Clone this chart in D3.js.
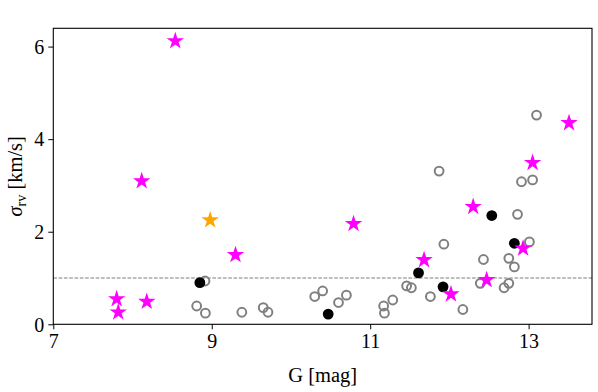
<!DOCTYPE html>
<html><head><meta charset="utf-8">
<script src="https://cdn.jsdelivr.net/npm/d3@7"></script>
<style>body{margin:0;background:#fff}svg{display:block}text{font-family:"Liberation Serif","Times New Roman",serif;fill:#000}</style>
</head><body><svg id="c" width="598" height="392"></svg>
<script>
// Gray open circles
const grayG = [8.915,8.81,8.92,9.38,9.65,9.71,10.30,10.40,10.60,10.70,11.17,11.18,11.285,11.46,11.52,11.76,11.93,12.17,12.39,12.43,12.69,12.75,12.75,12.82,12.86,13.01,11.87,12.91,13.05,13.10];
const grayS = [0.935,0.395,0.24,0.26,0.36,0.26,0.60,0.72,0.47,0.63,0.395,0.24,0.525,0.83,0.79,0.60,1.73,0.32,0.885,1.40,0.79,0.885,1.425,1.24,2.375,1.78,3.31,3.08,3.12,4.52];
// Black filled circles
const blackG = [8.85,10.47,11.61,11.92,12.535,12.82];
const blackS = [0.90,0.22,1.11,0.81,2.35,1.75];
// Magenta stars
const magG = [8.54,8.116,7.80,7.82,8.18,9.30,10.79,11.68,12.02,12.30,12.47,12.93,13.05,13.51];
const magS = [6.12,3.095,0.546,0.26,0.49,1.50,2.17,1.39,0.65,2.54,0.96,1.64,3.49,4.35];
// Orange star
const orgG = [8.98];
const orgS = [2.25];
const xTicks = [7,9,11,13];
const yTicks = [0,2,4,6];
const threshold = 1;

const svg = d3.select("#c");
const m = {l:53.3, t:28.3, r:6, b:67.7};
const W = 598, H = 392;
const x = d3.scaleLinear().domain([7,13.8]).range([m.l, W-m.r]);
const y = d3.scaleLinear().domain([0,6.395]).range([H-m.b, m.t]);

// threshold line
svg.append("line").attr("x1",x(7)).attr("x2",x(13.8)).attr("y1",y(threshold)).attr("y2",y(threshold))
  .attr("stroke","#7f7f7f").attr("stroke-width",1).attr("stroke-dasharray","3.7,1.6");

const z = d => d3.zip(...d);
svg.append("g").selectAll("circle").data(z([grayG,grayS])).join("circle")
  .attr("cx",d=>x(d[0])).attr("cy",d=>y(d[1])).attr("r",4.4)
  .attr("fill","none").attr("stroke","#808080").attr("stroke-width",2);
svg.append("g").selectAll("circle").data(z([blackG,blackS])).join("circle")
  .attr("cx",d=>x(d[0])).attr("cy",d=>y(d[1])).attr("r",5.4).attr("fill","#000");
const R = 9.2;
const star = d3.symbol().type(d3.symbolStar).size(R*R/0.89081309152928522810);
svg.append("g").selectAll("path").data(z([magG,magS])).join("path")
  .attr("d",star).attr("transform",d=>`translate(${x(d[0])},${y(d[1])})`).attr("fill","#ff00ff");
svg.append("g").selectAll("path").data(z([orgG,orgS])).join("path")
  .attr("d",star).attr("transform",d=>`translate(${x(d[0])},${y(d[1])})`).attr("fill","#ffa500");

// axes
const xa = svg.append("g").attr("transform",`translate(0,${H-m.b})`)
  .call(d3.axisBottom(x).tickValues(xTicks).tickFormat(d3.format("d")).tickSize(5).tickPadding(5));
const ya = svg.append("g").attr("transform",`translate(${m.l},0)`)
  .call(d3.axisLeft(y).tickValues(yTicks).tickFormat(d3.format("d")).tickSize(5).tickPadding(4));
[xa,ya].forEach(a=>{a.select(".domain").remove();a.selectAll("text").attr("font-size",20).attr("font-family","Liberation Serif").attr("fill","#000");a.selectAll("line").attr("stroke","#000").attr("stroke-width",1);});
ya.selectAll("text").attr("dy","0.34em");
xa.selectAll("text").attr("dy","0.7em");
// frame
svg.append("rect").attr("x",m.l).attr("y",m.t).attr("width",W-m.r-m.l).attr("height",H-m.b-m.t)
  .attr("fill","none").attr("stroke","#000").attr("stroke-width",1.1);

// labels
svg.append("text").attr("x",(m.l+W-m.r)/2).attr("y",382).attr("text-anchor","middle").attr("font-size",20.5).text("G [mag]");
const yl = svg.append("text").attr("transform",`translate(22,${(m.t+H-m.b)/2}) rotate(-90)`).attr("text-anchor","middle").attr("font-size",20.5);
yl.append("tspan").attr("font-style","italic").text("σ");
yl.append("tspan").attr("font-size",14).attr("dy",4).text("rv");
yl.append("tspan").attr("dy",-4).text(" [km/s]");
</script></body></html>
